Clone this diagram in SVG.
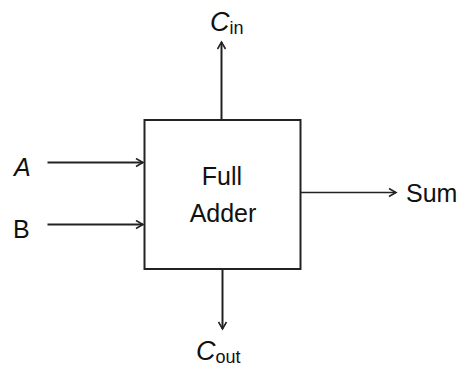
<svg xmlns="http://www.w3.org/2000/svg" width="471" height="367" viewBox="0 0 471 367">
  <style>
    .wire { stroke: #222; stroke-width: 2; fill: none; }
    .thin { stroke-width: 1.6; }
    .lbl { font-family: "Liberation Sans", "DejaVu Sans", sans-serif; font-size: 25px; fill: #111; }
    .big { font-size: 27px; }
    .sub { font-size: 18px; }
    .ital { font-style: italic; }
  </style>
  <defs>
    <marker id="chev" markerWidth="10" markerHeight="10" refX="8" refY="5" orient="auto" markerUnits="userSpaceOnUse">
      <path d="M1,1 L8,5 L1,9" fill="none" stroke="#222" stroke-width="1.6"/>
    </marker>
  </defs>
  <rect width="471" height="367" fill="#fff"/>

  <g id="full-adder">
    <rect x="144.5" y="120" width="156" height="149" fill="#fff" stroke="#222" stroke-width="2"/>
    <text class="lbl" x="222" y="185" text-anchor="middle">Full</text>
    <text class="lbl" x="223" y="221.5" text-anchor="middle">Adder</text>
  </g>

  <g id="connectors">
    <line class="wire" x1="221.5" y1="119" x2="221.5" y2="42" marker-end="url(#chev)"/>
    <line class="wire" x1="47.5" y1="162.5" x2="143" y2="162.5" marker-end="url(#chev)"/>
    <line class="wire" x1="47.5" y1="224.5" x2="143" y2="224.5" marker-end="url(#chev)"/>
    <line class="wire thin" x1="301" y1="192.5" x2="396" y2="192.5" marker-end="url(#chev)"/>
    <line class="wire" x1="222.5" y1="270" x2="222.5" y2="329" marker-end="url(#chev)"/>
  </g>

  <g id="label-cin">
    <text class="lbl" x="210" y="31"><tspan class="ital big">C</tspan><tspan class="sub" dy="3">in</tspan></text>
  </g>
  <g id="label-a">
    <text class="lbl ital" x="14" y="176">A</text>
  </g>
  <g id="label-b">
    <text class="lbl" x="13" y="238">B</text>
  </g>
  <g id="label-sum">
    <text class="lbl" x="406" y="201.5">Sum</text>
  </g>
  <g id="label-cout">
    <text class="lbl" x="196" y="360"><tspan class="ital big">C</tspan><tspan class="sub" dy="3">out</tspan></text>
  </g>
</svg>
